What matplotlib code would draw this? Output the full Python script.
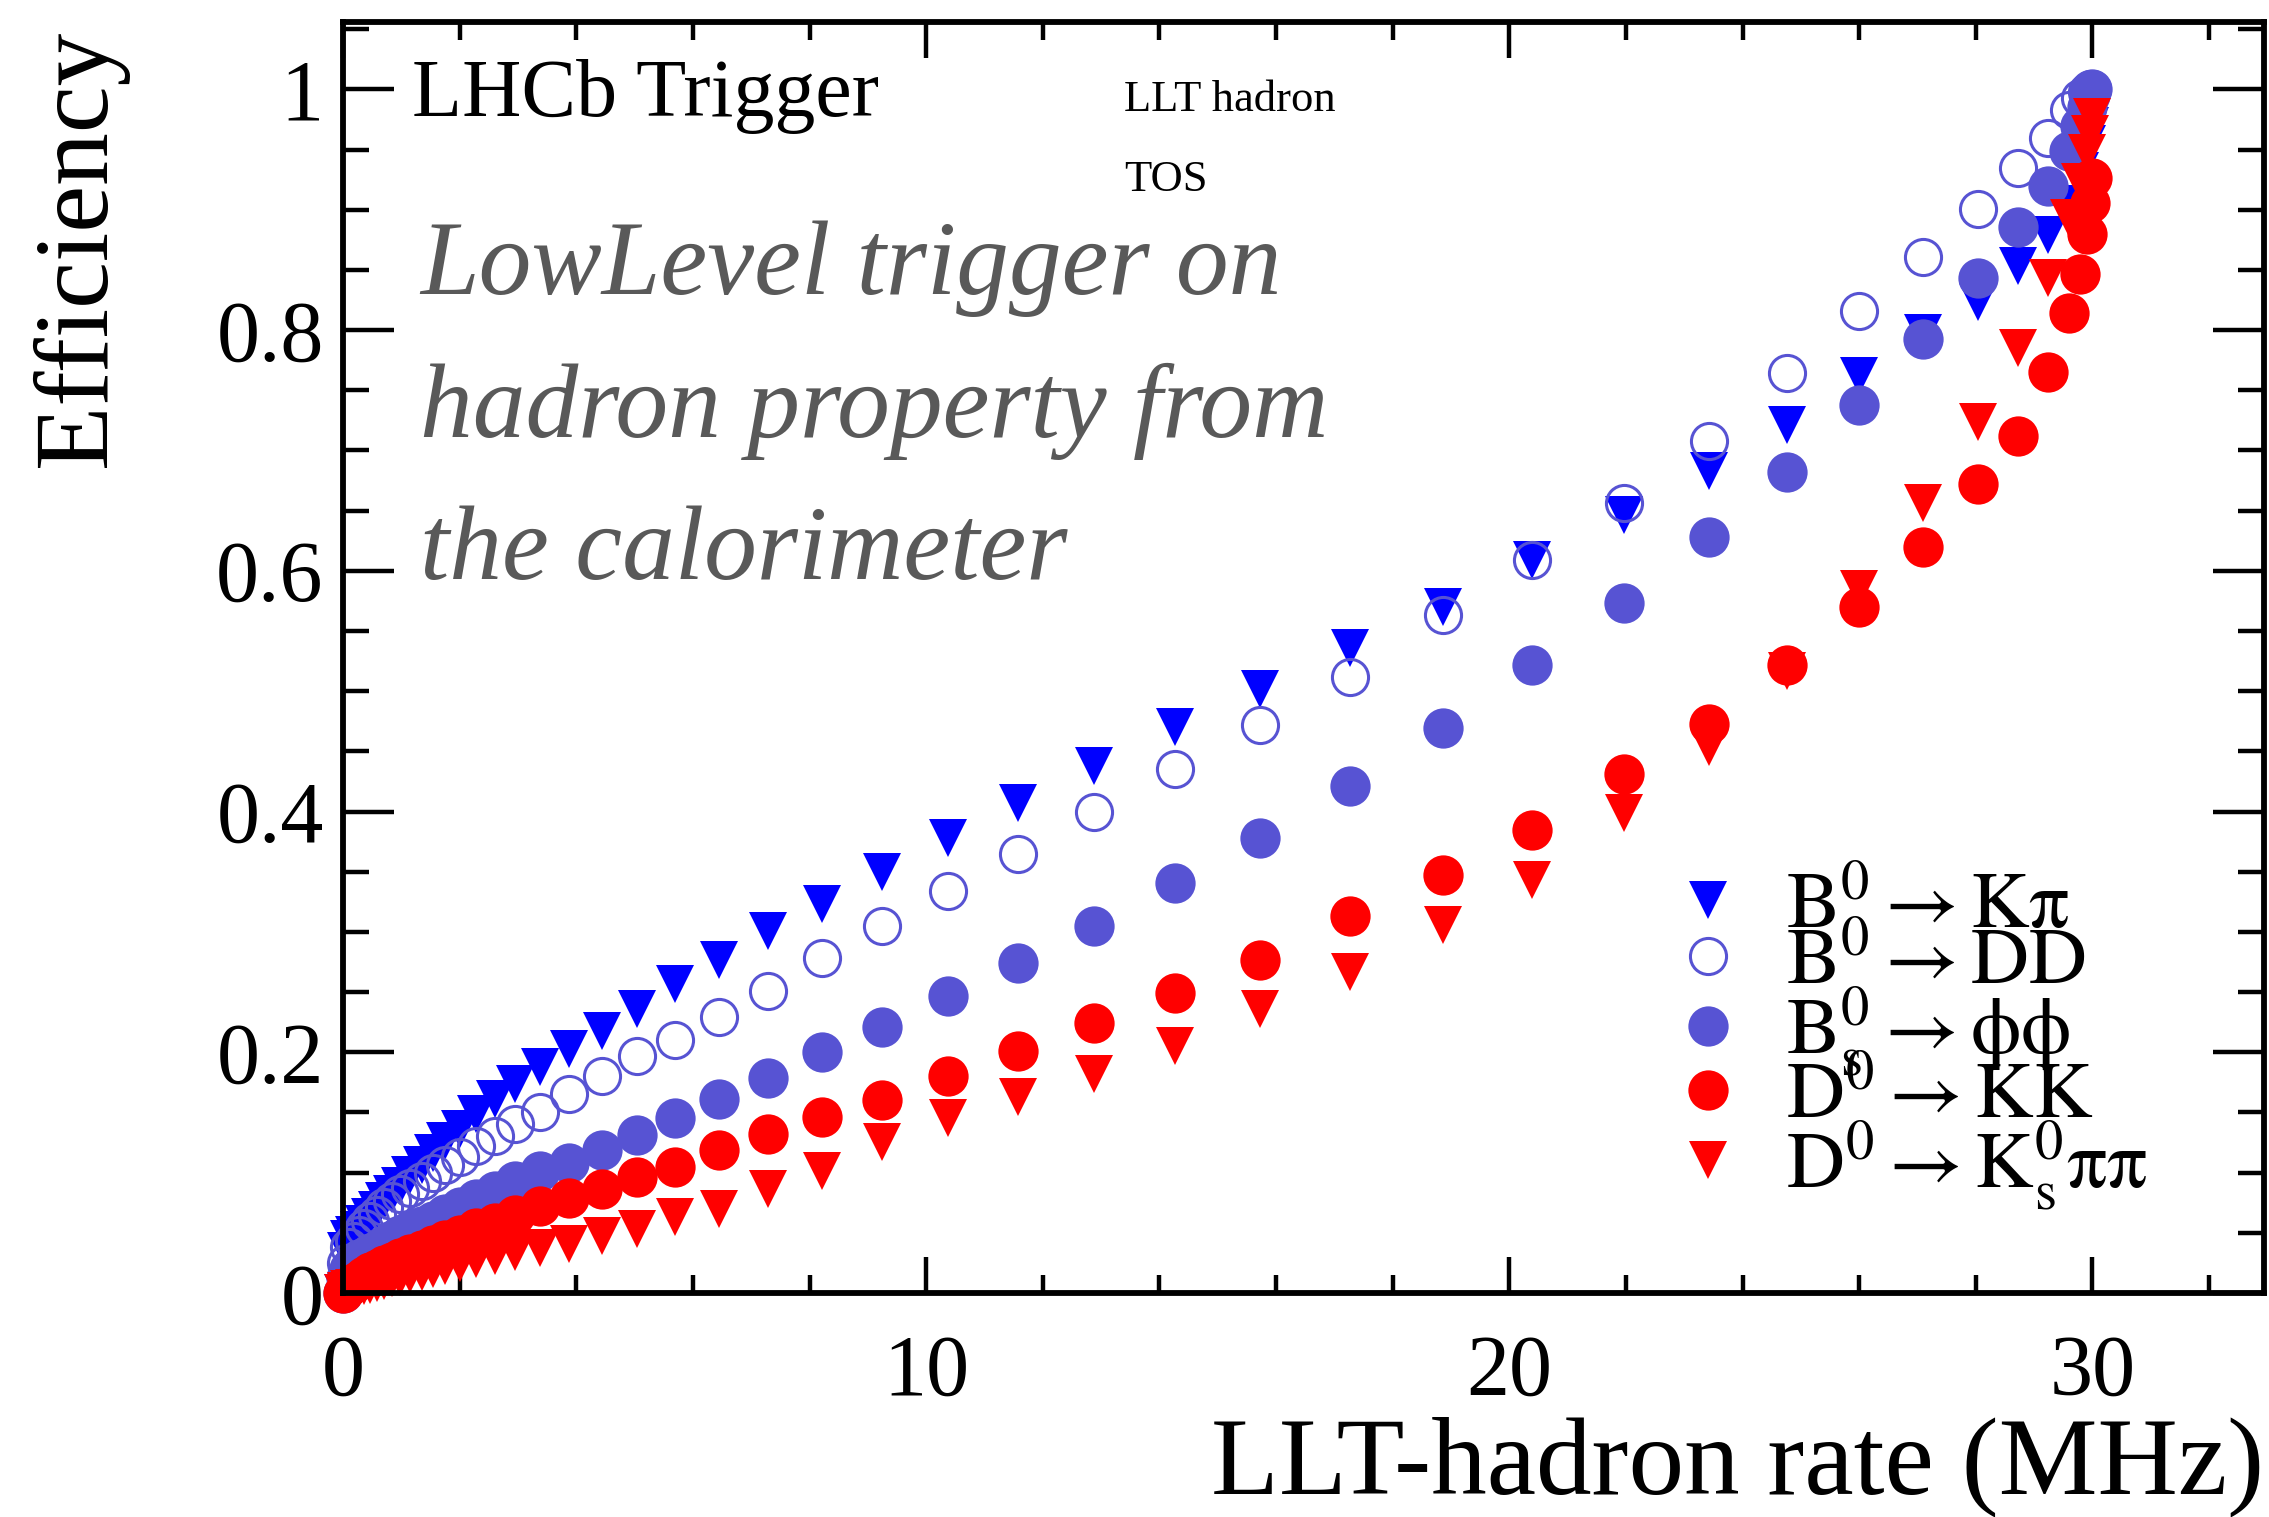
import matplotlib
matplotlib.use("Agg")
import matplotlib.pyplot as plt

plt.rcParams['font.family'] = ['Liberation Serif', 'DejaVu Serif']
plt.rcParams['mathtext.fontset'] = 'stix'

# LLT-hadron rate (MHz), shared by all channels
rate = [0.0, 0.05, 0.11, 0.19, 0.27, 0.36, 0.46, 0.58, 0.70, 0.84,
        0.98, 1.15, 1.35, 1.55, 1.75, 2.01, 2.28, 2.61, 2.95, 3.38,
        3.87, 4.44, 5.04, 5.69, 6.44, 7.28, 8.21, 9.24, 10.37, 11.57,
        12.88, 14.27, 15.73, 17.27, 18.86, 20.39, 21.96, 23.43, 24.77, 25.99,
        27.10, 28.04, 28.73, 29.24, 29.60, 29.78, 29.90, 29.95, 29.99]

eff_b_kpi = [0.0, 0.035, 0.045, 0.048, 0.052, 0.057, 0.063, 0.069, 0.076, 0.082,
             0.089, 0.098, 0.106, 0.116, 0.126, 0.136, 0.149, 0.161, 0.174, 0.188,
             0.203, 0.218, 0.236, 0.257, 0.277, 0.301, 0.323, 0.350, 0.378, 0.407,
             0.438, 0.470, 0.502, 0.536, 0.570, 0.609, 0.646, 0.683, 0.721, 0.762,
             0.798, 0.823, 0.853, 0.879, 0.905, 0.932, 0.955, 0.970, 0.985]

eff_b_dd = [0.0, 0.025, 0.038, 0.043, 0.048, 0.054, 0.060, 0.065, 0.071, 0.076,
            0.082, 0.087, 0.093, 0.100, 0.106, 0.113, 0.122, 0.130, 0.140, 0.150,
            0.165, 0.180, 0.197, 0.210, 0.229, 0.251, 0.278, 0.305, 0.334, 0.365,
            0.400, 0.435, 0.472, 0.512, 0.563, 0.609, 0.656, 0.708, 0.764, 0.816,
            0.861, 0.901, 0.935, 0.960, 0.983, 0.993, 0.998, 1.0, 1.0]

eff_bs_phiphi = [0.0, 0.012, 0.020, 0.025, 0.028, 0.030, 0.033, 0.036, 0.040, 0.044,
                 0.048, 0.052, 0.056, 0.060, 0.066, 0.071, 0.078, 0.085, 0.093, 0.101,
                 0.108, 0.119, 0.131, 0.145, 0.161, 0.179, 0.200, 0.221, 0.247, 0.274,
                 0.305, 0.341, 0.378, 0.421, 0.469, 0.522, 0.573, 0.628, 0.682, 0.738,
                 0.793, 0.843, 0.886, 0.920, 0.949, 0.970, 0.985, 0.995, 1.0]

eff_d_kk = [0.0, 0.003, 0.006, 0.008, 0.011, 0.014, 0.017, 0.020, 0.023, 0.026,
            0.029, 0.032, 0.036, 0.040, 0.044, 0.048, 0.054, 0.058, 0.065, 0.072,
            0.079, 0.086, 0.096, 0.105, 0.119, 0.132, 0.146, 0.160, 0.180, 0.201,
            0.224, 0.249, 0.277, 0.313, 0.347, 0.385, 0.431, 0.473, 0.522, 0.570,
            0.620, 0.672, 0.712, 0.765, 0.814, 0.847, 0.880, 0.906, 0.926]

eff_d_kspipi = [0.0, 0.002, 0.003, 0.004, 0.005, 0.006, 0.007, 0.008, 0.010, 0.012,
                0.0135, 0.0155, 0.017, 0.020, 0.022, 0.025, 0.028, 0.031, 0.034, 0.037,
                0.041, 0.047, 0.053, 0.063, 0.070, 0.086, 0.101, 0.125, 0.145, 0.163,
                0.182, 0.205, 0.236, 0.267, 0.306, 0.343, 0.399, 0.454, 0.517, 0.585,
                0.656, 0.724, 0.785, 0.843, 0.893, 0.923, 0.947, 0.963, 0.977]

labels = [r'$\mathrm{B^0 \rightarrow K\pi}$',
          r'$\mathrm{B^0 \rightarrow DD}$',
          r'$\mathrm{B_s^0 \rightarrow \phi\phi}$',
          r'$\mathrm{D^0 \rightarrow KK}$',
          r'$\mathrm{D^0 \rightarrow K_s^0\pi\pi}$']

blue = '#0000ff'
slate = '#5753d3'
red = '#ff0000'

fig = plt.figure(figsize=(22.69, 15.17), dpi=100)
ax = fig.add_axes([0.1512, 0.1477, 0.8468, 0.8378])

ms = 28
ax.plot(rate, eff_b_kpi, 'v', color=blue, ms=ms, mew=0, label=labels[0], clip_on=False)
ax.plot(rate, eff_b_dd, 'o', mfc='none', mec=slate, ms=ms - 2, mew=2.2, label=labels[1], clip_on=False)
ax.plot(rate, eff_bs_phiphi, 'o', color=slate, ms=ms + 1, mew=0, label=labels[2], clip_on=False)
ax.plot(rate, eff_d_kk, 'o', color=red, ms=ms + 1, mew=0, label=labels[3], clip_on=False)
ax.plot(rate, eff_d_kspipi, 'v', color=red, ms=ms, mew=0, label=labels[4], clip_on=False)

ax.set_xlim(0, 32.95)
ax.set_ylim(0, 1.056)
ax.set_xticks([0, 10, 20, 30])
ax.set_xticks(range(0, 33, 2), minor=True)
ax.set_yticks([0, 0.2, 0.4, 0.6, 0.8, 1.0])
ax.set_yticklabels(['0', '0.2', '0.4', '0.6', '0.8', '1'])
ax.set_yticks([i * 0.05 for i in range(22)], minor=True)

ax.tick_params(axis='both', which='both', direction='in', top=True, right=True, width=3.2)
ax.tick_params(axis='x', which='major', length=26, pad=30, labelsize=62)
ax.tick_params(axis='x', which='minor', length=13)
ax.tick_params(axis='y', which='major', length=37, pad=14, labelsize=62)
ax.tick_params(axis='y', which='minor', length=19)
for sp in ax.spines.values():
    sp.set_linewidth(4.2)

ax.set_xlabel('LLT-hadron rate (MHz)', fontsize=80, loc='right')
ax.xaxis.set_label_coords(1.0, -0.097)
ax.set_ylabel('Efficiency', fontsize=76, loc='top')
ax.yaxis.set_label_coords(-0.112, 0.994)

leg = ax.legend(loc='center left', bbox_to_anchor=(0.735, 0.313), bbox_transform=fig.transFigure,
                frameon=False, fontsize=58, handlelength=1.0, handletextpad=0.47,
                labelspacing=-0.21, borderpad=0, borderaxespad=0)

fig.text(0.1816, 0.9235, 'LHCb Trigger', fontsize=59, va='baseline')
fig.text(0.4954, 0.9268, 'LLT hadron', fontsize=32, va='baseline')
fig.text(0.4954, 0.874, 'TOS', fontsize=32, va='baseline')

note_lines = ['LowLevel trigger on', 'hadron property from', 'the calorimeter']
note_y = [0.8062, 0.7119, 0.6183]
for line, yy in zip(note_lines, note_y):
    fig.text(0.185, yy, line, fontsize=76, style='italic', color='#595959', va='baseline')

fig.savefig('out.png', dpi=100)
